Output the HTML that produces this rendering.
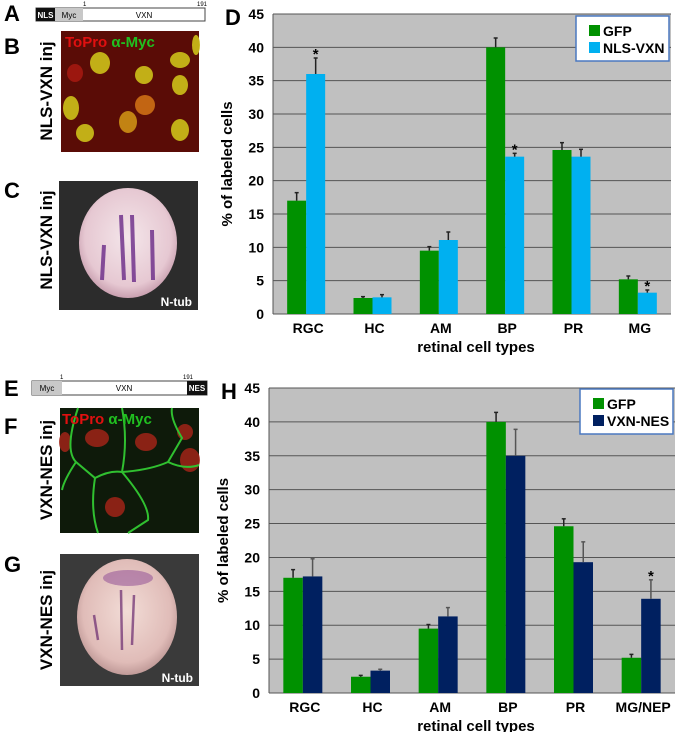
<!DOCTYPE html>
<html><head><meta charset="utf-8"><style>
body{margin:0;background:#fff;}
svg{display:block;font-family:"Liberation Sans",Arial,sans-serif;}
.pl{font-size:22px;font-weight:bold;}
.tk{font-size:14px;font-weight:bold;}
</style></head><body>
<svg id="fig" width="678" height="732" viewBox="0 0 678 732">
<defs>
<radialGradient id="emb1" cx="0.5" cy="0.45" r="0.55"><stop offset="0" stop-color="#f4e6ea"/><stop offset="0.8" stop-color="#e6c8d2"/><stop offset="1" stop-color="#c9a0b0"/></radialGradient>
<radialGradient id="emb2" cx="0.5" cy="0.45" r="0.55"><stop offset="0" stop-color="#f2dcd6"/><stop offset="0.8" stop-color="#e0bcb8"/><stop offset="1" stop-color="#c09a98"/></radialGradient>
</defs>
<g>
<text class="pl" x="4" y="21">A</text>
<rect x="36" y="8" width="169" height="13" fill="#fff" stroke="#444" stroke-width="1"/>
<rect x="36" y="8" width="19" height="13" fill="#111"/>
<rect x="55" y="8" width="28" height="13" fill="#c8c8c8"/>
<text x="45.5" y="18" font-size="8" fill="#fff" text-anchor="middle" font-weight="bold">NLS</text>
<text x="69" y="18" font-size="8" text-anchor="middle">Myc</text>
<text x="144" y="18" font-size="8" text-anchor="middle">VXN</text>
<text x="83" y="6" font-size="6">1</text>
<text x="197" y="6" font-size="6">191</text>
</g>
<g>
<text class="pl" x="4" y="54">B</text>
<text transform="translate(52,91) rotate(-90)" font-size="17" font-weight="bold" text-anchor="middle">NLS-VXN inj</text>
<rect x="61" y="31" width="138" height="121" fill="#5a0c06"/>
<g fill="#c8b818" opacity="0.95">
<ellipse cx="100" cy="63" rx="10" ry="11"/><ellipse cx="144" cy="75" rx="9" ry="9"/><ellipse cx="180" cy="60" rx="10" ry="8"/>
<ellipse cx="180" cy="85" rx="8" ry="10"/><ellipse cx="71" cy="108" rx="8" ry="12"/><ellipse cx="145" cy="105" rx="10" ry="10" fill="#c86a14"/>
<ellipse cx="128" cy="122" rx="9" ry="11" fill="#c88a14"/><ellipse cx="85" cy="133" rx="9" ry="9"/><ellipse cx="180" cy="130" rx="9" ry="11"/>
<ellipse cx="75" cy="73" rx="8" ry="9" fill="#a01810"/><ellipse cx="196" cy="45" rx="4" ry="10"/>
</g>
<text x="65" y="47" font-size="15" font-weight="bold" fill="#e01010">ToPro <tspan fill="#20c020">α-Myc</tspan></text>
</g>
<g>
<text class="pl" x="4" y="198">C</text>
<text transform="translate(52,240) rotate(-90)" font-size="17" font-weight="bold" text-anchor="middle">NLS-VXN inj</text>
<rect x="59" y="181" width="139" height="129" fill="#2c2c2c"/>
<ellipse cx="128" cy="243" rx="49" ry="55" fill="url(#emb1)"/>
<g stroke="#6a2a88" stroke-width="4" opacity="0.8">
<line x1="104" y1="245" x2="102" y2="280"/><line x1="121" y1="215" x2="124" y2="280"/><line x1="132" y1="215" x2="134" y2="282"/><line x1="152" y1="230" x2="153" y2="280"/>
</g>
<text x="192" y="306" font-size="12" font-weight="bold" fill="#fff" text-anchor="end">N-tub</text>
</g>
<g>
<text class="pl" x="4" y="396">E</text>
<rect x="32" y="381" width="175" height="14" fill="#fff" stroke="#444"/>
<rect x="32" y="381" width="30" height="14" fill="#c8c8c8"/>
<rect x="187" y="381" width="20" height="14" fill="#111"/>
<text x="47" y="391" font-size="8" text-anchor="middle">Myc</text>
<text x="124" y="391" font-size="8" text-anchor="middle">VXN</text>
<text x="197" y="391" font-size="8" fill="#fff" text-anchor="middle" font-weight="bold">NES</text>
<text x="60" y="379" font-size="6">1</text>
<text x="183" y="379" font-size="6">191</text>
</g>
<g>
<text class="pl" x="4" y="434">F</text>
<text transform="translate(52,470) rotate(-90)" font-size="17" font-weight="bold" text-anchor="middle">VXN-NES inj</text>
<rect x="60" y="408" width="139" height="125" fill="#0e1a0a"/>
<g fill="#a02418" opacity="0.85">
<ellipse cx="97" cy="438" rx="12" ry="9"/><ellipse cx="146" cy="442" rx="11" ry="9"/><ellipse cx="190" cy="460" rx="10" ry="12"/>
<ellipse cx="115" cy="507" rx="10" ry="10"/><ellipse cx="65" cy="442" rx="6" ry="10"/><ellipse cx="185" cy="432" rx="8" ry="8"/>
</g>
<g fill="none" stroke="#30c030" stroke-width="2">
<path d="M78 408 Q64 450 76 462 L95 478 Q110 470 122 472 Q150 470 168 462 L182 438 Q170 418 172 408"/>
<path d="M95 478 Q90 510 98 533"/><path d="M122 472 Q150 505 148 520 L128 533"/><path d="M168 462 Q185 470 199 465"/>
<path d="M122 408 Q128 440 122 472"/><path d="M76 462 Q64 480 62 490"/>
</g>
<text x="62" y="424" font-size="15" font-weight="bold" fill="#e01010">ToPro <tspan fill="#20c020">α-Myc</tspan></text>
</g>
<g>
<text class="pl" x="4" y="572">G</text>
<text transform="translate(52,620) rotate(-90)" font-size="17" font-weight="bold" text-anchor="middle">VXN-NES inj</text>
<rect x="60" y="554" width="139" height="132" fill="#3a3a3a"/>
<ellipse cx="127" cy="617" rx="50" ry="58" fill="url(#emb2)"/>
<ellipse cx="128" cy="578" rx="25" ry="8" fill="#9a5a9a" opacity="0.6"/>
<g stroke="#6a2a70" stroke-width="2.5" opacity="0.7">
<line x1="121" y1="590" x2="122" y2="650"/><line x1="134" y1="595" x2="132" y2="645"/><line x1="94" y1="615" x2="98" y2="640"/>
</g>
<text x="193" y="682" font-size="12" font-weight="bold" fill="#fff" text-anchor="end">N-tub</text>
</g>
<g id="chartD"></g>
<g id="chartH"></g>
</svg>
<script>
const categoriesD = ["RGC","HC","AM","BP","PR","MG"];
const categoriesH = ["RGC","HC","AM","BP","PR","MG/NEP"];
const gfpValues = [17, 2.4, 9.5, 40, 24.6, 5.2];
const gfpErrTop = [18.2, 2.6, 10.1, 41.4, 25.7, 5.7];
const nlsValues = [36, 2.5, 11.1, 23.6, 23.6, 3.2];
const nlsErrTop = [38.4, 2.9, 12.3, 24.1, 24.7, 3.6];
const nlsStars = [true,false,false,true,false,true];
const nesValues = [17.2, 3.3, 11.3, 35, 19.3, 13.9];
const nesErrTop = [19.8, 3.5, 12.6, 38.9, 22.3, 16.7];
const nesStars = [false,false,false,false,false,true];
const yTicks = [0,5,10,15,20,25,30,35,40,45];
const NS="http://www.w3.org/2000/svg";
function mk(t,a,p){const e=document.createElementNS(NS,t);for(const k in a)e.setAttribute(k,a[k]);p.appendChild(e);return e;}
function chart(g,o){
  const L=o.left,R=o.right,T=o.top,B=o.bottom,n=o.cats.length,cw=(R-L)/n;
  const y=v=>B-(v/45)*(B-T);
  const x=i=>L+(i+0.5)*cw;
  const bg=mk('rect',{x:L,y:T,width:R-L,height:B-T,fill:'#c0c0c0'},g);
  
  
  yTicks.forEach(t=>{
    const ln=mk('line',{x1:L,x2:R,y1:y(t),y2:y(t),stroke:'#555','stroke-width':1},g);
    
    
    const tx=mk('text',{x:L-9,y:y(t)+5,'text-anchor':'end',class:'tk'},g);
    tx.textContent=t;
    
    
  });
  mk('line',{x1:L,x2:L,y1:T,y2:B,stroke:'#555'},g);
  const bw=o.bw;
  const series=[{v:gfpValues,e:gfpErrTop,c:'#009100',s:null,ec:'#222'},{v:o.v2,e:o.e2,c:o.c2,s:o.stars,ec:o.ec2}];
  o.cats.forEach((c,i)=>{
    series.forEach((s,j)=>{
      const bx=x(i)-bw+j*bw;
      const r=mk('rect',{x:bx,y:y(s.v[i]),width:bw,height:B-y(s.v[i]),fill:s.c},g);
      
      
      const cx=bx+bw/2;
      mk('line',{x1:cx,x2:cx,y1:y(s.v[i]),y2:y(s.e[i]),stroke:s.ec,'stroke-width':1.5},g);
      mk('line',{x1:cx-2,x2:cx+2,y1:y(s.e[i]),y2:y(s.e[i]),stroke:s.ec,'stroke-width':1.5},g);
      if(s.s&&s.s[i]){const st=mk('text',{x:cx,y:y(s.e[i])+1,'text-anchor':'middle','font-size':15,'font-weight':'bold'},g);st.textContent='*';
        
        }
    });
    const lb=mk('text',{x:x(i)+2,y:B+19,'text-anchor':'middle','font-size':14,'font-weight':'bold'},g);
    lb.textContent=c;
    
    
  });
  const xt=mk('text',{x:(L+R)/2+4,y:B+38,'text-anchor':'middle','font-size':15,'font-weight':'bold'},g);
  xt.textContent='retinal cell types';
  
  
  const yt=mk('text',{transform:`translate(${L-41},${(T+B)/2}) rotate(-90)`,'text-anchor':'middle','font-size':15,'font-weight':'bold'},g);
  yt.textContent='% of labeled cells';
  
  
  const pl=mk('text',{x:L-48,y:T+11,class:'pl','font-size':22},g);
  pl.textContent=o.label;
  
  
  const lg=mk('g',{},g);
  
  
  mk('rect',{x:o.lx,y:o.ly,width:o.lw,height:45,fill:'#fff',stroke:'#4a78c0','stroke-width':1.5},lg);
  mk('rect',{x:o.lx+13,y:o.ly+9,width:11,height:11,fill:'#009100'},lg);
  mk('rect',{x:o.lx+13,y:o.ly+26,width:11,height:11,fill:o.c2},lg);
  const t1=mk('text',{x:o.lx+27,y:o.ly+20,'font-size':14,'font-weight':'bold'},lg);t1.textContent='GFP';
  const t2=mk('text',{x:o.lx+27,y:o.ly+37,'font-size':14,'font-weight':'bold'},lg);t2.textContent=o.n2;
}
chart(document.getElementById('chartD'),{left:273,right:671,top:14,bottom:314,cats:categoriesD,v2:nlsValues,e2:nlsErrTop,c2:'#00b0f0',stars:nlsStars,ec2:'#222',bw:19,name2:'nls-vxn',n2:'NLS-VXN',label:'D',lx:576,ly:16,lw:93});
chart(document.getElementById('chartH'),{left:269,right:675,top:388,bottom:693,cats:categoriesH,v2:nesValues,e2:nesErrTop,c2:'#002060',stars:nesStars,ec2:'#555',bw:19.5,name2:'vxn-nes',n2:'VXN-NES',label:'H',lx:580,ly:389,lw:93});
</script>
</body></html>
